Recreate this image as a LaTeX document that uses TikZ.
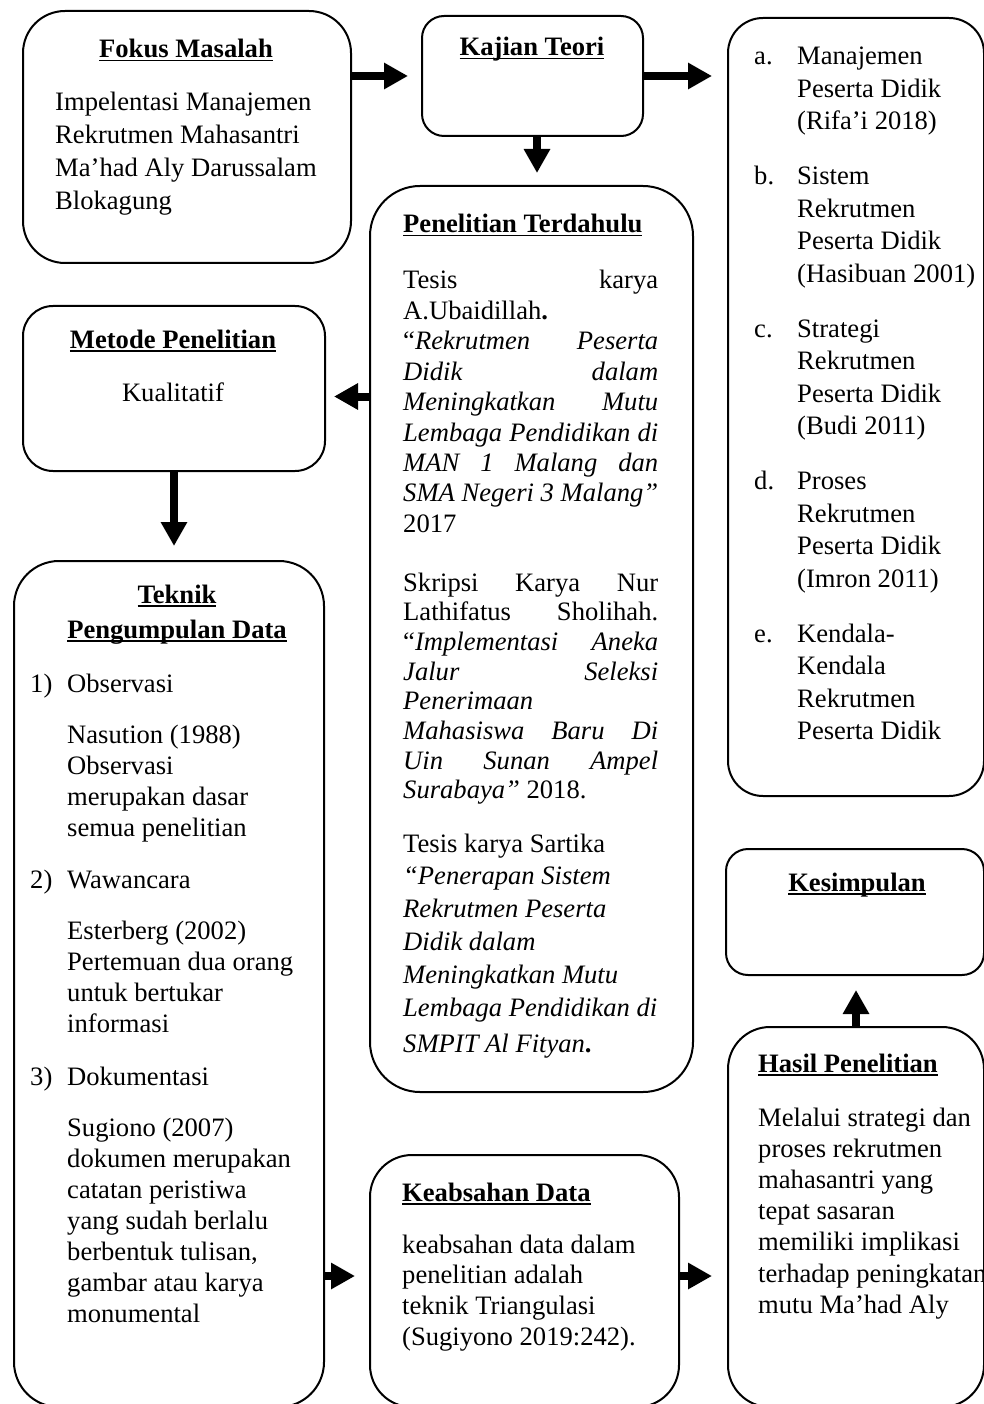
\documentclass[tikz,border=0pt]{standalone}
\usepackage{fontspec}
\setmainfont{Liberation Serif}
\usetikzlibrary{arrows.meta,positioning}
\newcommand\judul[1]{\setbox0\hbox{\bfseries #1}\rlap{\rule[-3.5pt]{\wd0}{1.8pt}}\box0}
\newcommand\jline[1]{\makebox[255pt][s]{#1}}
\tikzset{
    flow-box/.style = {draw, line width=2pt, rectangle, anchor=north west, inner sep=0pt},
    flow-text/.style = {anchor=base west, inner sep=0pt},
    flow-title/.style = {anchor=base, inner sep=0pt},
    flow-arrow/.style = {line width=8pt, -{Triangle[length=24pt, width=25pt]}},
}

\begin{document}
\begin{tikzpicture}[x=1pt, y=-1pt, font=\fontsize{26.6}{31}\selectfont]
\useasboundingbox (0,0) rectangle (984,1404);

\node[flow-box, minimum width=328, minimum height=252, rounded corners=42] (fokus) at (22,10) {};
\node[flow-box, minimum width=221, minimum height=120, rounded corners=22] (kajian) at (421,15) {};
\node[flow-box, minimum width=256, minimum height=778, rounded corners=35] (teori) at (727,17) {};
\node[flow-box, minimum width=323, minimum height=906, rounded corners=50] (terdahulu) at (369,185) {};
\node[flow-box, minimum width=302, minimum height=165, rounded corners=30] (metode) at (22,305) {};
\node[flow-box, minimum width=310, minimum height=846, rounded corners=45] (teknik) at (13,560) {};
\node[flow-box, minimum width=258, minimum height=126, rounded corners=22] (kesimpulan) at (725,848) {};
\node[flow-box, minimum width=256, minimum height=380, rounded corners=42] (hasil) at (727,1026) {};
\node[flow-box, minimum width=309, minimum height=252, rounded corners=42] (keabsahan) at (369,1154) {};

\coordinate (kajian-bawah) at ([xshift=4.5pt]kajian.south);
\coordinate (baris-metode) at (0,396.5);
\coordinate (baris-bawah) at (0,1276);

\draw[flow-arrow, shorten >=13pt] (fokus.east |- kajian.west) -- (kajian.west);
\draw[flow-arrow, shorten >=15pt] (kajian.east) -- (teori.west |- kajian.east);
\draw[flow-arrow, shorten >=12pt] (kajian-bawah) -- (kajian-bawah |- terdahulu.north);
\draw[flow-arrow, shorten >=8pt] (terdahulu.west |- baris-metode) -- (metode.east |- baris-metode);
\draw[flow-arrow, shorten >=14pt] (metode.south) -- (metode.south |- teknik.north);
\draw[flow-arrow, shorten >=14pt] (teknik.east |- baris-bawah) -- (keabsahan.west |- baris-bawah);
\draw[flow-arrow, shorten >=15pt] (keabsahan.east |- baris-bawah) -- (hasil.west |- baris-bawah);
\draw[flow-arrow, shorten >=14pt] (hasil.north) -- (hasil.north |- kesimpulan.south);

\node[flow-title] (fokus-judul) at (186,58) {\judul{Fokus Masalah}};
\node[flow-text, font=\fontsize{26.6}{33}\selectfont] (fokus-isi) at (55,111) {\begin{tabular}[t]{@{}l@{}}
Impelentasi Manajemen\\ Rekrutmen Mahasantri\\ Ma’had Aly Darussalam\\ Blokagung
\end{tabular}};

\node[flow-title] (kajian-judul) at (532,56) {\judul{Kajian Teori}};

\node[flow-text, font=\fontsize{26.6}{32.5}\selectfont] (teori-isi) at (754,65) {\begin{tabular}[t]{@{}p{43pt}@{}l@{}}
a. & Manajemen\\ & Peserta Didik\\ & (Rifa’i 2018)\\[22.5pt]
b. & Sistem\\ & Rekrutmen\\ & Peserta Didik\\ & (Hasibuan 2001)\\[22.5pt]
c. & Strategi\\ & Rekrutmen\\ & Peserta Didik\\ & (Budi 2011)\\[22.5pt]
d. & Proses\\ & Rekrutmen\\ & Peserta Didik\\ & (Imron 2011)\\[22.5pt]
e. & Kendala-\\ & Kendala\\ & Rekrutmen\\ & Peserta Didik
\end{tabular}};

\node[flow-text] (terdahulu-judul) at (403,233) {\judul{Penelitian Terdahulu}};
\node[flow-text, font=\fontsize{26.6}{30.4}\selectfont] (terdahulu-satu) at (403,289) {\begin{tabular}[t]{@{}l@{}}
\jline{Tesis karya}\\
A.Ubaidillah\textbf{.}\\
\jline{“\textit{Rekrutmen Peserta}}\\
\jline{\textit{Didik dalam}}\\
\jline{\textit{Meningkatkan Mutu}}\\
\jline{\textit{Lembaga Pendidikan di}}\\
\jline{\textit{MAN 1 Malang dan}}\\
\jline{\textit{SMA Negeri 3 Malang”}}\\
2017
\end{tabular}};
\node[flow-text, font=\fontsize{26.6}{29.7}\selectfont] (terdahulu-dua) at (403,591) {\begin{tabular}[t]{@{}l@{}}
\jline{Skripsi Karya Nur}\\
\jline{Lathifatus Sholihah.}\\
\jline{“\textit{Implementasi Aneka}}\\
\jline{\textit{Jalur Seleksi}}\\
\textit{Penerimaan}\\
\jline{\textit{Mahasiswa Baru Di}}\\
\jline{\textit{Uin Sunan Ampel}}\\
\textit{Surabaya”} 2018.
\end{tabular}};
\node[flow-text, font=\fontsize{26.6}{32.8}\selectfont] (terdahulu-tiga) at (403,852) {\begin{tabular}[t]{@{}l@{}}
Tesis karya Sartika\\
\textit{“Penerapan Sistem}\\
\textit{Rekrutmen Peserta}\\
\textit{Didik dalam}\\
\textit{Meningkatkan Mutu}\\
\textit{Lembaga Pendidikan di}\\[4pt]
\textit{SMPIT Al Fityan}\textbf{.}
\end{tabular}};

\node[flow-title] (metode-judul) at (173,348) {\judul{Metode Penelitian}};
\node[flow-title] (metode-isi) at (173,401) {Kualitatif};

\node[flow-title, font=\fontsize{26.6}{35}\selectfont] (teknik-judul) at (177,603) {\begin{tabular}[t]{@{}c@{}}
\judul{Teknik}\\ \judul{Pengumpulan Data}
\end{tabular}};
\node[flow-text] (teknik-isi) at (30,692) {\begin{tabular}[t]{@{}p{37pt}@{}l@{}}
1) & Observasi\\[20pt]
 & Nasution (1988)\\ & Observasi\\ & merupakan dasar\\ & semua penelitian\\[21pt]
2) & Wawancara\\[20pt]
 & Esterberg (2002)\\ & Pertemuan dua orang\\ & untuk bertukar\\ & informasi\\[22pt]
3) & Dokumentasi\\[20pt]
 & Sugiono (2007)\\ & dokumen merupakan\\ & catatan peristiwa\\ & yang sudah berlalu\\
 & berbentuk tulisan,\\ & gambar atau karya\\ & monumental
\end{tabular}};

\node[flow-title] (kesimpulan-judul) at (857,891) {\judul{Kesimpulan}};

\node[flow-text] (hasil-judul) at (758,1072) {\judul{Hasil Penelitian}};
\node[flow-text, font=\fontsize{26.6}{31.2}\selectfont] (hasil-isi) at (758,1126) {\begin{tabular}[t]{@{}l@{}}
Melalui strategi dan\\ proses rekrutmen\\ mahasantri yang\\ tepat sasaran\\
memiliki implikasi\\ terhadap peningkatan\\ mutu Ma’had Aly
\end{tabular}};

\node[flow-text] (keabsahan-judul) at (402,1201) {\judul{Keabsahan Data}};
\node[flow-text, font=\fontsize{26.6}{30.7}\selectfont] (keabsahan-isi) at (402,1253) {\begin{tabular}[t]{@{}l@{}}
keabsahan data dalam\\ penelitian adalah\\ teknik Triangulasi\\ (Sugiyono 2019:242).
\end{tabular}};
\end{tikzpicture}
\end{document}
